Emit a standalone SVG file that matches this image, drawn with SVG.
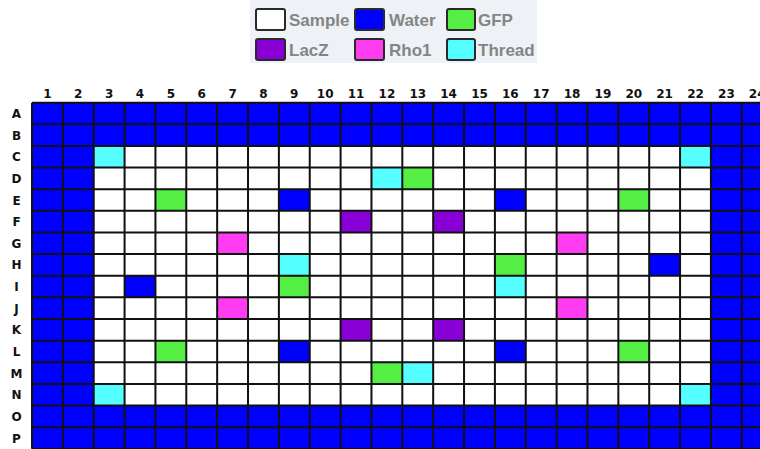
<svg xmlns="http://www.w3.org/2000/svg" width="760" height="449" viewBox="0 0 760 449">
<defs>
<style>
.lg{font-family:"Liberation Sans",Arial,sans-serif;font-weight:bold;font-size:17px;fill:#858585}
.sw{stroke:#2a2a2a;stroke-width:2}
.hd{font-family:"DejaVu Sans",Verdana,sans-serif;font-weight:bold;font-size:12px;fill:#111;text-anchor:middle}
.water{fill:#0000ff}
.gfp{fill:#55ee44}
.lacz{fill:#8800d6}
.rho{fill:#ff3cf0}
.thr{fill:#55ffff}
.smp{fill:#ffffff}
.grid{fill:none;stroke:#111;stroke-width:2}
</style>
</defs>
<rect width="760" height="449" fill="#ffffff"/>
<g id="legend">
<rect x="250" y="0" width="287" height="63" fill="#eef2f6"/>
<g id="lg-sample"><rect class="sw smp" x="256" y="9" width="29" height="21" rx="2"/><text class="lg" x="289" y="26">Sample</text></g>
<g id="lg-water"><rect class="sw water" x="355" y="9" width="29" height="21" rx="2"/><text class="lg" x="389" y="26">Water</text></g>
<g id="lg-gfp"><rect class="sw gfp" x="447" y="9" width="28" height="21" rx="2"/><text class="lg" x="478" y="26">GFP</text></g>
<g id="lg-lacz"><rect class="sw lacz" x="256" y="39" width="29" height="21" rx="2"/><text class="lg" x="289" y="56">LacZ</text></g>
<g id="lg-rho1"><rect class="sw rho" x="355" y="39" width="29" height="21" rx="2"/><text class="lg" x="389" y="56">Rho1</text></g>
<g id="lg-thread"><rect class="sw thr" x="447" y="39" width="28" height="21" rx="2"/><text class="lg" x="478" y="56">Thread</text></g>
</g>
<g id="col-headers" class="hd">
<text x="47.4" y="98">1</text><text x="78.3" y="98">2</text><text x="109.2" y="98">3</text><text x="140" y="98">4</text><text x="170.9" y="98">5</text><text x="201.7" y="98">6</text><text x="232.6" y="98">7</text><text x="263.5" y="98">8</text><text x="294.3" y="98">9</text><text x="325.2" y="98">10</text><text x="356" y="98">11</text><text x="386.9" y="98">12</text><text x="417.8" y="98">13</text><text x="448.6" y="98">14</text><text x="479.5" y="98">15</text><text x="510.3" y="98">16</text><text x="541.2" y="98">17</text><text x="572.1" y="98">18</text><text x="602.9" y="98">19</text><text x="633.8" y="98">20</text><text x="664.6" y="98">21</text><text x="695.5" y="98">22</text><text x="726.4" y="98">23</text><text x="757.2" y="98">24</text>
</g>
<g id="row-headers" class="hd">
<text x="16.5" y="118">A</text><text x="16.5" y="139.6">B</text><text x="16.5" y="161.3">C</text><text x="16.5" y="182.9">D</text><text x="16.5" y="204.5">E</text><text x="16.5" y="226.2">F</text><text x="16.5" y="247.8">G</text><text x="16.5" y="269.4">H</text><text x="16.5" y="291">I</text><text x="16.5" y="312.7">J</text><text x="16.5" y="334.3">K</text><text x="16.5" y="355.9">L</text><text x="16.5" y="377.6">M</text><text x="16.5" y="399.2">N</text><text x="16.5" y="420.8">O</text><text x="16.5" y="442.5">P</text>
</g>
<g id="plate" transform="translate(32,102.7)">
<g id="wells-water-border" class="water">
<rect x="0" y="0" width="740.64" height="43.26"/>
<rect x="0" y="302.82" width="740.64" height="43.26"/>
<rect x="0" y="43.26" width="61.72" height="259.56"/>
<rect x="678.92" y="43.26" width="61.72" height="259.56"/>
</g>
<rect id="wells-sample" class="smp" x="61.72" y="43.26" width="617.2" height="259.56"/>
<g id="wells-thread" class="thr">
<rect x="61.72" y="43.26" width="30.86" height="21.63"/>
<rect x="648.06" y="43.26" width="30.86" height="21.63"/>
<rect x="61.72" y="281.19" width="30.86" height="21.63"/>
<rect x="648.06" y="281.19" width="30.86" height="21.63"/>
<rect x="339.46" y="64.89" width="30.86" height="21.63"/>
<rect x="246.88" y="151.41" width="30.86" height="21.63"/>
<rect x="462.9" y="173.04" width="30.86" height="21.63"/>
<rect x="370.32" y="259.56" width="30.86" height="21.63"/>
</g>
<g id="wells-gfp" class="gfp">
<rect x="370.32" y="64.89" width="30.86" height="21.63"/>
<rect x="123.44" y="86.52" width="30.86" height="21.63"/>
<rect x="586.34" y="86.52" width="30.86" height="21.63"/>
<rect x="462.9" y="151.41" width="30.86" height="21.63"/>
<rect x="246.88" y="173.04" width="30.86" height="21.63"/>
<rect x="123.44" y="237.93" width="30.86" height="21.63"/>
<rect x="586.34" y="237.93" width="30.86" height="21.63"/>
<rect x="339.46" y="259.56" width="30.86" height="21.63"/>
</g>
<g id="wells-water" class="water">
<rect x="246.88" y="86.52" width="30.86" height="21.63"/>
<rect x="462.9" y="86.52" width="30.86" height="21.63"/>
<rect x="617.2" y="151.41" width="30.86" height="21.63"/>
<rect x="92.58" y="173.04" width="30.86" height="21.63"/>
<rect x="246.88" y="237.93" width="30.86" height="21.63"/>
<rect x="462.9" y="237.93" width="30.86" height="21.63"/>
</g>
<g id="wells-lacz" class="lacz">
<rect x="308.6" y="108.15" width="30.86" height="21.63"/>
<rect x="401.18" y="108.15" width="30.86" height="21.63"/>
<rect x="308.6" y="216.3" width="30.86" height="21.63"/>
<rect x="401.18" y="216.3" width="30.86" height="21.63"/>
</g>
<g id="wells-rho1" class="rho">
<rect x="185.16" y="129.78" width="30.86" height="21.63"/>
<rect x="524.62" y="129.78" width="30.86" height="21.63"/>
<rect x="185.16" y="194.67" width="30.86" height="21.63"/>
<rect x="524.62" y="194.67" width="30.86" height="21.63"/>
</g>
<path id="grid-lines" class="grid" d="M0 0V346.08M30.86 0V346.08M61.72 0V346.08M92.58 0V346.08M123.44 0V346.08M154.3 0V346.08M185.16 0V346.08M216.02 0V346.08M246.88 0V346.08M277.74 0V346.08M308.6 0V346.08M339.46 0V346.08M370.32 0V346.08M401.18 0V346.08M432.04 0V346.08M462.9 0V346.08M493.76 0V346.08M524.62 0V346.08M555.48 0V346.08M586.34 0V346.08M617.2 0V346.08M648.06 0V346.08M678.92 0V346.08M709.78 0V346.08M740.64 0V346.08M0 0H740.64M0 21.63H740.64M0 43.26H740.64M0 64.89H740.64M0 86.52H740.64M0 108.15H740.64M0 129.78H740.64M0 151.41H740.64M0 173.04H740.64M0 194.67H740.64M0 216.3H740.64M0 237.93H740.64M0 259.56H740.64M0 281.19H740.64M0 302.82H740.64M0 324.45H740.64M0 346.08H740.64"/>
</g>
</svg>
